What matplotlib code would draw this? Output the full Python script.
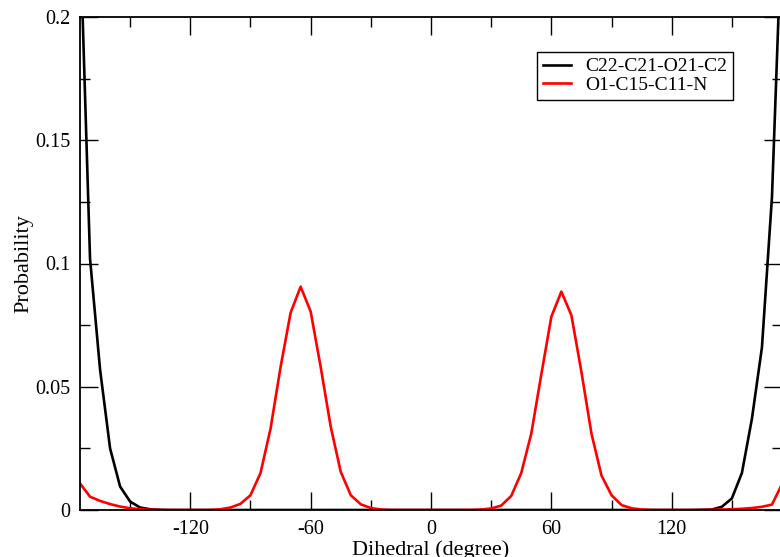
import matplotlib
matplotlib.use("Agg")
import matplotlib.pyplot as plt
from matplotlib.ticker import MultipleLocator, FixedLocator

plt.rcParams['font.family'] = ['Liberation Serif', 'DejaVu Serif']
plt.rcParams['axes.unicode_minus'] = False

angles = list(range(-175, 180, 5))

black_vals = {
    -175: 0.235, -170: 0.102, -165: 0.057, -160: 0.025, -155: 0.0095,
    -150: 0.0034, -145: 0.001, -140: 0.0003, -135: 0.0001,
    135: 0.0001, 140: 0.0002, 145: 0.0013, 150: 0.0047, 155: 0.015,
    160: 0.037, 165: 0.066, 170: 0.127, 175: 0.24,
}
red_vals = {
    -175: 0.0108, -170: 0.0054, -165: 0.0037, -160: 0.0024, -155: 0.0014,
    -150: 0.0007, -145: 0.0003, -140: 0.0001,
    -105: 0.0003, -100: 0.001, -95: 0.0025, -90: 0.006, -85: 0.015,
    -80: 0.033, -75: 0.058, -70: 0.080, -65: 0.0906, -60: 0.0805,
    -55: 0.058, -50: 0.0338, -45: 0.0155, -40: 0.006, -35: 0.0023,
    -30: 0.0008, -25: 0.0002,
    25: 0.0002, 30: 0.0006, 35: 0.0018, 40: 0.0057, 45: 0.015, 50: 0.031,
    55: 0.055, 60: 0.0784, 65: 0.0886, 70: 0.079, 75: 0.056, 80: 0.031,
    85: 0.014, 90: 0.006, 95: 0.002, 100: 0.0007, 105: 0.0002,
    140: 0.0001, 145: 0.0002, 150: 0.0003, 155: 0.0005, 160: 0.0008,
    165: 0.0013, 170: 0.0022, 175: 0.0105,
}
black_y = [black_vals.get(a, 0.0) for a in angles]
red_y = [red_vals.get(a, 0.0) for a in angles]

labels = ["C22-C21-O21-C2", "O1-C15-C11-N"]
x_ticks = [-120, -60, 0, 60, 120]
y_ticks = [0, 0.05, 0.1, 0.15, 0.2]
y_tick_labels = ["0", "0.05", "0.1", "0.15", "0.2"]

W, H = 780, 557
fig = plt.figure(figsize=(W / 100, H / 100), dpi=100)
ax = fig.add_axes([80 / W, (H - 510) / H, (782 - 80) / W, (510 - 17) / H])

ax.plot(angles, black_y, color='black', lw=1.9, label=labels[0])
ax.plot(angles, red_y, color='#ff0000', lw=1.9, label=labels[1])

ax.set_xlim(-175, 175)
ax.set_ylim(0, 0.2)
ax.xaxis.set_major_locator(FixedLocator(x_ticks))
ax.xaxis.set_minor_locator(MultipleLocator(30))
ax.set_yticks(y_ticks)
ax.set_yticklabels(y_tick_labels)
ax.yaxis.set_minor_locator(MultipleLocator(0.025))

ax.tick_params(which='both', direction='in', top=True, right=True,
               labelsize=14.5, width=1.0, colors='black')
ax.tick_params(which='major', length=13, pad=7)
ax.tick_params(which='minor', length=7)
for s in ax.spines.values():
    s.set_linewidth(1.3)

ax.set_xlabel("Dihedral (degree)", fontsize=16, labelpad=1)
ax.set_ylabel("Probability", fontsize=16, labelpad=1)

leg = ax.legend(loc='upper left', bbox_to_anchor=(537 / W, 1 - 52 / H),
                bbox_transform=fig.transFigure, borderaxespad=0,
                fontsize=14, frameon=True, fancybox=False, edgecolor='black',
                framealpha=1, handlelength=1.45, handletextpad=0.75,
                borderpad=0.3, labelspacing=0.05)
leg.get_frame().set_linewidth(1.0)

fig.savefig("out.png", dpi=100)
